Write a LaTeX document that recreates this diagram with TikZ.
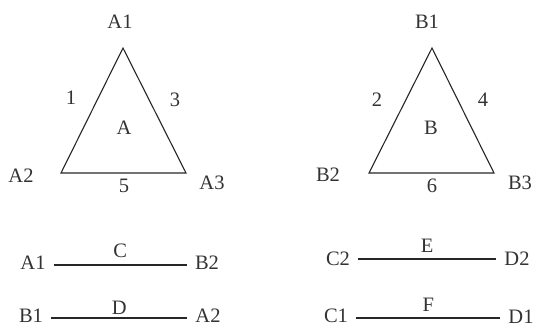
\documentclass[tikz,border=0pt]{standalone}
\usepackage{fontspec}
\setmainfont{Liberation Serif}
\usetikzlibrary{positioning}
\tikzset{
  edgeline/.style={line width=1.1pt, draw=black!85},
  segline/.style={edgeline, shorten <=7pt, shorten >=7pt},
  lbl/.style={font=\fontsize{20.5}{22}\selectfont, text=black!80, inner sep=1pt}
}

\begin{document}
\begin{tikzpicture}[x=1pt,y=-1pt]
        \useasboundingbox (0,0) rectangle (533,327);

        % triangle A
        \coordinate (ta1) at (123,48);
        \coordinate (ta2) at (61,173);
        \coordinate (ta3) at (186,173);
        \draw[edgeline] (ta1) -- (ta2) -- (ta3) -- cycle;
        \node[lbl] (nA1) at (120,22) {A1};
        \node[lbl] (nA2) at (21,176) {A2};
        \node[lbl] (nA3) at (212,183) {A3};
        \node[lbl] (e1) at (71,98) {1};
        \node[lbl] (e3) at (175,100) {3};
        \node[lbl] (e5) at (124,186) {5};
        \node[lbl] (fA) at (124,128) {A};

        % triangle B
        \coordinate (tb1) at (432,48);
        \coordinate (tb2) at (369,173);
        \coordinate (tb3) at (494,173);
        \draw[edgeline] (tb1) -- (tb2) -- (tb3) -- cycle;
        \node[lbl] (nB1) at (427,22) {B1};
        \node[lbl] (nB2) at (328,175) {B2};
        \node[lbl] (nB3) at (520,183) {B3};
        \node[lbl] (e2) at (377,100) {2};
        \node[lbl] (e4) at (483,100) {4};
        \node[lbl] (e6) at (432,186) {6};
        \node[lbl] (fB) at (431,128) {B};

        % segments
        \node[lbl] (cA1) at (33,263) {A1};
        \node[lbl] (cB2) at (207,263) {B2};
        \draw[segline] (cA1.east |- 0,265) -- (cB2.west |- 0,265) node[lbl, midway, above=6pt] (fC) {C};

        \node[lbl] (dB1) at (31,316) {B1};
        \node[lbl] (dA2) at (208,316) {A2};
        \draw[segline] (dB1.east |- 0,318) -- (dA2.west |- 0,318) node[lbl, midway, above=2pt] (fD) {D};

        \node[lbl] (eC2) at (338,259) {C2};
        \node[lbl] (eD2) at (517,259) {D2};
        \draw[segline] (eC2) -- (eD2) node[lbl, midway, above=5pt] (fE) {E};

        \node[lbl] (fC1) at (336,316) {C1};
        \node[lbl] (fD1) at (521,317) {D1};
        \draw[segline] (fC1.east |- 0,318) -- (fD1.west |- 0,318) node[lbl, midway, above=5pt] (fF) {F};
      \end{tikzpicture}
\end{document}
